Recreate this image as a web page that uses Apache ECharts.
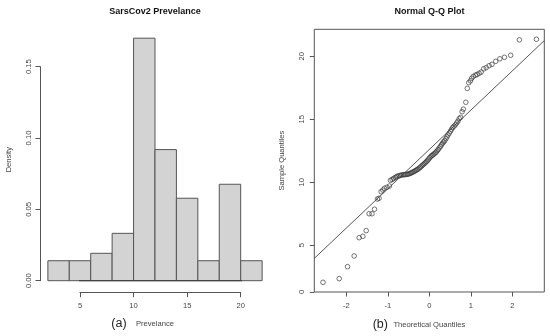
<!DOCTYPE html>
<html><head><meta charset="utf-8">
<script src="https://cdn.jsdelivr.net/npm/echarts@6/dist/echarts.min.js"></script>
<style>html,body{margin:0;padding:0;background:#fff}#c{width:550px;height:336px}</style>
</head><body><div id="c"></div>
<script>
// ---- data ----
const histBreaks = [2, 4, 6, 8, 10, 12, 14, 16, 18, 20, 22];
const histDensity = [0.014, 0.014, 0.0192, 0.0332, 0.170, 0.0919, 0.0578, 0.014, 0.0676, 0.014];
const histXRange = [1.2, 22.8];
const qqTheoretical = [
  -2.56, -2.17, -1.97, -1.81, -1.69, -1.60, -1.52, -1.45, -1.38, -1.32,
  -1.25, -1.21, -1.16, -1.12, -1.08, -1.02, -0.96, -0.935, -0.896, -0.86,
  -0.82, -0.79, -0.755, -0.72, -0.69, -0.66, -0.625, -0.595, -0.565, -0.535,
  -0.51, -0.48, -0.45, -0.425, -0.40, -0.37, -0.345, -0.32, -0.295, -0.27,
  -0.24, -0.215, -0.19, -0.165, -0.14, -0.113, -0.088, -0.063, -0.038, -0.0125,
  0.0125, 0.038, 0.063, 0.088, 0.113, 0.14, 0.165, 0.19, 0.215, 0.24,
  0.27, 0.295, 0.32, 0.345, 0.37, 0.40, 0.425, 0.45, 0.48, 0.51,
  0.535, 0.565, 0.595, 0.625, 0.66, 0.69, 0.72, 0.755, 0.79, 0.82,
  0.88, 0.915, 0.95, 0.99, 1.02, 1.06, 1.11, 1.15, 1.20, 1.25,
  1.31, 1.37, 1.44, 1.51, 1.60, 1.70, 1.81, 1.96, 2.17, 2.58
];
const qqSample = [
  2.06, 2.35, 3.30, 4.15, 5.60, 5.71, 6.16, 7.50, 7.50, 7.86,
  8.67, 8.73, 9.25, 9.38, 9.52, 9.60, 9.70, 10.15, 10.22, 10.30,
  10.38, 10.45, 10.50, 10.52, 10.55, 10.58, 10.60, 10.60, 10.62, 10.63,
  10.65, 10.68, 10.72, 10.76, 10.80, 10.85, 10.90, 10.95, 11.00, 11.05,
  11.12, 11.20, 11.27, 11.35, 11.42, 11.50, 11.58, 11.66, 11.75, 11.85,
  11.95, 12.05, 12.12, 12.18, 12.25, 12.32, 12.40, 12.50, 12.60, 12.72,
  12.85, 12.98, 13.10, 13.20, 13.30, 13.45, 13.60, 13.75, 13.90, 14.05,
  14.20, 14.35, 14.45, 14.55, 14.70, 14.85, 15.05, 15.15, 15.60, 15.80,
  16.35, 17.45, 17.90, 18.05, 18.25, 18.40, 18.50, 18.55, 18.65, 18.75,
  19.00, 19.10, 19.25, 19.36, 19.60, 19.80, 19.92, 20.08, 21.30, 21.35
];
const qqLineIntercept = 12.6;
const qqLineSlope = 3.12;
const qqXRange = [-2.77, 2.77];
const qqYRange = [1.29, 22.14];
const qqXTicks = [-2, -1, 0, 1, 2];
const qqYTickValues = [1.29, 5, 10, 15, 20];
const qqYTickLabels = ['0', '5', '10', '15', '20'];

// ---- chart ----
const FONT = "'Liberation Sans', Arial, sans-serif";
const AX = '#555';
const TXT = '#444';
const small = { fontFamily: FONT, fontSize: 7.6, color: TXT };

const chart = echarts.init(document.getElementById('c'), null, { renderer: 'canvas' });

const histData = histDensity.map((d, i) => [histBreaks[i], histBreaks[i + 1], d]);
const qqPoints = qqTheoretical.map((x, i) => [x, qqSample[i]]);
const qqLineData = qqXRange.map(x => [x, qqLineIntercept + qqLineSlope * x]);

const option = {
  backgroundColor: '#fff',
  animation: false,
  title: [
    { text: 'SarsCov2 Prevelance', left: 155, top: 11.5, textAlign: 'center', textVerticalAlign: 'middle', padding: 0,
      textStyle: { fontFamily: FONT, fontSize: 9, fontWeight: 'bold', color: '#111' } },
    { text: 'Normal Q-Q Plot', left: 429.5, top: 11.5, textAlign: 'center', textVerticalAlign: 'middle', padding: 0,
      textStyle: { fontFamily: FONT, fontSize: 9, fontWeight: 'bold', color: '#111' } },
    { text: '(a)', left: 119, top: 323.5, textAlign: 'center', textVerticalAlign: 'middle', padding: 0,
      textStyle: { fontFamily: FONT, fontSize: 12.5, fontWeight: 'normal', color: '#222' } },
    { text: '(b)', left: 380.3, top: 324.3, textAlign: 'center', textVerticalAlign: 'middle', padding: 0,
      textStyle: { fontFamily: FONT, fontSize: 12.5, fontWeight: 'normal', color: '#222' } }
  ],
  grid: [
    { left: 80, top: 66.7, width: 160.7, height: 214, show: false, outerBoundsMode: 'none' },
    { left: 314.3, top: 29.3, width: 230, height: 262.7, show: true, borderColor: AX, borderWidth: 1,
      backgroundColor: 'transparent', outerBoundsMode: 'none' }
  ],
  xAxis: [
    { gridIndex: 0, type: 'value', min: 5, max: 20, interval: 5, offset: 12,
      axisLine: { show: true, onZero: false, lineStyle: { color: AX, width: 1 } },
      axisTick: { show: true, length: 4.5, lineStyle: { color: AX } },
      axisLabel: Object.assign({ margin: 9 }, small),
      splitLine: { show: false },
      name: 'Prevelance', nameLocation: 'middle', nameGap: 27,
      nameTextStyle: Object.assign({ padding: [0, 10.7, 0, 0] }, small) },
    { gridIndex: 1, type: 'value', min: qqXRange[0], max: qqXRange[1],
      axisLine: { show: false, onZero: false },
      axisTick: { show: true, length: 4.5, lineStyle: { color: AX }, customValues: qqXTicks },
      axisLabel: Object.assign({ margin: 10, customValues: qqXTicks }, small),
      splitLine: { show: false },
      name: 'Theoretical Quantiles', nameLocation: 'middle', nameGap: 28.5,
      nameTextStyle: small }
  ],
  yAxis: [
    { gridIndex: 0, type: 'value', min: 0, max: 0.15, interval: 0.05, offset: 40,
      axisLine: { show: true, onZero: false, lineStyle: { color: AX, width: 1 } },
      axisTick: { show: true, length: 4.5, lineStyle: { color: AX } },
      axisLabel: Object.assign({ rotate: 90, margin: 7.5, formatter: v => v.toFixed(2) }, small),
      splitLine: { show: false },
      name: 'Density', nameLocation: 'middle', nameRotate: 90, nameGap: 27,
      nameTextStyle: Object.assign({ padding: [0, 0, 0, 28] }, small) },
    { gridIndex: 1, type: 'value', min: qqYRange[0], max: qqYRange[1],
      axisLine: { show: false, onZero: false },
      axisTick: { show: true, length: 4.5, lineStyle: { color: AX }, customValues: qqYTickValues },
      axisLabel: Object.assign({ rotate: 90, margin: 8, customValues: qqYTickValues,
        formatter: v => qqYTickLabels[qqYTickValues.indexOf(v)] }, small),
      splitLine: { show: false },
      name: 'Sample Quantiles', nameLocation: 'middle', nameRotate: 90, nameGap: 28,
      nameTextStyle: small }
  ],
  series: [
    { type: 'custom', xAxisIndex: 0, yAxisIndex: 0, clip: false, silent: true,
      data: histData, encode: { x: [0, 1], y: 2 },
      renderItem: (params, api) => {
        const p0 = api.coord([api.value(0), api.value(2)]);
        const p1 = api.coord([api.value(1), 0]);
        return { type: 'rect',
          shape: { x: p0[0], y: p0[1], width: p1[0] - p0[0], height: p1[1] - p0[1] },
          style: { fill: '#d3d3d3', stroke: '#555', lineWidth: 1 } };
      } },
    { type: 'line', xAxisIndex: 0, yAxisIndex: 0, clip: false, silent: true, symbol: 'none',
      data: histXRange.map(x => [x, 0]), lineStyle: { color: '#444', width: 1.2 } },
    { type: 'scatter', xAxisIndex: 1, yAxisIndex: 1, silent: true, symbol: 'circle', symbolSize: 4.6,
      data: qqPoints,
      itemStyle: { color: 'rgba(0,0,0,0)', borderColor: '#333', borderWidth: 0.85 } },
    { type: 'line', xAxisIndex: 1, yAxisIndex: 1, silent: true, symbol: 'none',
      data: qqLineData, lineStyle: { color: '#444', width: 0.9 } }
  ]
};
chart.setOption(option);
</script>
</body></html>
